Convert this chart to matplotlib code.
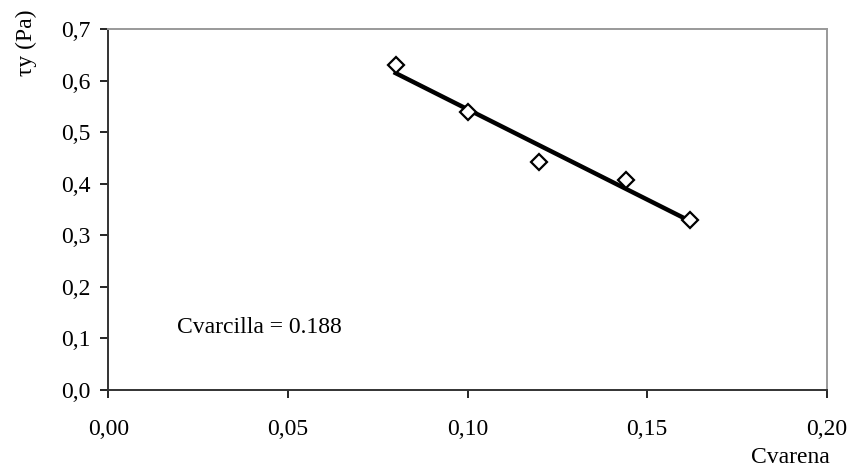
import numpy as np
import matplotlib.pyplot as plt

plt.rcParams['font.family'] = ['Liberation Serif', 'DejaVu Serif']

# measured points
cv_arena = [0.080, 0.100, 0.120, 0.144, 0.162]
tau_y = [0.630, 0.540, 0.443, 0.408, 0.330]
xticks = [0.00, 0.05, 0.10, 0.15, 0.20]
yticks = [0.0, 0.1, 0.2, 0.3, 0.4, 0.5, 0.6, 0.7]
note = 'Cvarcilla = 0.188'

W, H = 850, 472
fig = plt.figure(figsize=(W / 100, H / 100), dpi=100)
ax = fig.add_axes([108.3 / W, 1 - 390 / H, (826.7 - 108.3) / W, (390 - 29) / H])

# linear fit line
slope, icpt = np.polyfit(cv_arena, tau_y, 1)
xfit = np.array([min(cv_arena), max(cv_arena)])
ax.plot(xfit, slope * xfit + icpt, color='black', lw=3.2, zorder=2)

ax.plot(cv_arena, tau_y, linestyle='none', marker='D', markersize=8,
        markerfacecolor='white', markeredgecolor='black', markeredgewidth=1.6, zorder=3)

ax.set_xlim(0, 0.2)
ax.set_ylim(0, 0.7)
ax.set_xticks(xticks)
ax.set_yticks(yticks)
ax.set_xticklabels([f'{v:.2f}'.replace('.', ',') for v in xticks])
ax.set_yticklabels([f'{v:.1f}'.replace('.', ',') for v in yticks])
ax.tick_params(direction='out', length=6, width=1.2, labelsize=17, color='black', pad=7)
ax.tick_params(axis='x', pad=15)

for s in ['left', 'bottom']:
    ax.spines[s].set_color('#333333')
    ax.spines[s].set_linewidth(1.4)
for s in ['top', 'right']:
    ax.spines[s].set_color('#999999')
    ax.spines[s].set_linewidth(1.4)

ax.text(0.019, 0.1105, note, fontsize=17, ha='left', va='baseline')

fig.text(26 / W, 1 - 43 / H, 'τy (Pa)', rotation=90, fontsize=17, ha='center', va='center')
fig.text(830 / W, 1 - 463 / H, 'Cvarena', fontsize=17, ha='right', va='baseline')

fig.savefig('out.png', dpi=100)
